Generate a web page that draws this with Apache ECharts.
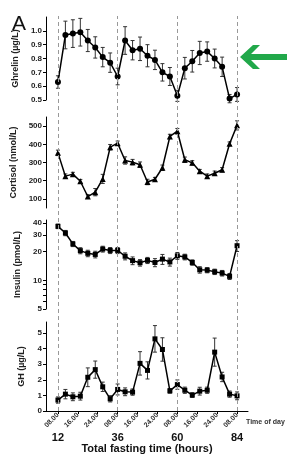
<!DOCTYPE html>
<html>
<head>
<meta charset="utf-8">
<script src="https://cdn.jsdelivr.net/npm/echarts@6/dist/echarts.min.js"></script>
<style>
  body { margin: 0; background: #fff; }
  #main { width: 289px; height: 461px; }
</style>
</head>
<body>
<div id="main"></div>
<script>
// fasting time (hours) of each sample
var hours = [12, 15, 18, 21, 24, 27, 30, 33, 36, 39, 42, 45, 48, 51, 54, 57, 60, 63, 66, 69, 72, 75, 78, 81, 84];

var ghrelin    = [0.63, 0.97, 0.98, 0.99, 0.93, 0.88, 0.81, 0.77, 0.67, 0.93, 0.86, 0.87, 0.82, 0.79, 0.70, 0.67, 0.53, 0.73, 0.78, 0.84, 0.85, 0.80, 0.74, 0.51, 0.54];
var ghrelinErr = [0.045, 0.10, 0.10, 0.10, 0.08, 0.077, 0.07, 0.07, 0.06, 0.10, 0.07, 0.085, 0.08, 0.07, 0.063, 0.065, 0.04, 0.078, 0.078, 0.084, 0.07, 0.068, 0.07, 0.03, 0.05];

var cortisol    = [353, 225, 236, 197, 113, 137, 210, 384, 406, 311, 302, 288, 193, 208, 271, 443, 472, 315, 298, 252, 225, 241, 260, 403, 504];
var cortisolErr = [15, 12, 10, 10, 10, 20, 25, 15, 12, 20, 15, 15, 15, 10, 15, 12, 15, 15, 12, 10, 12, 12, 12, 10, 25];

var insulin    = [36.9, 31.4, 24.1, 20.5, 19.2, 18.7, 21.3, 20.6, 20.6, 17.9, 16.1, 15.3, 16.2, 15.4, 16.7, 15.6, 18.1, 17.6, 15.4, 12.9, 12.8, 12.3, 11.9, 11.0, 23.1];
var insulinErr = [2, 2, 1.5, 1.5, 1.5, 1.5, 1.5, 1.5, 1.5, 1.5, 1.5, 1.2, 1.2, 1.5, 2, 1.5, 1.5, 1.2, 1, 1, 0.8, 0.8, 0.8, 0.8, 3];

var gh    = [0.70, 1.08, 0.91, 0.95, 2.16, 2.65, 1.55, 0.78, 1.38, 1.23, 1.21, 3.05, 2.60, 4.62, 3.94, 1.29, 1.69, 1.33, 1.02, 1.27, 1.33, 3.77, 2.18, 1.08, 0.97];
var ghErr = [0.2, 0.3, 0.25, 0.25, 0.6, 0.55, 0.3, 0.2, 0.35, 0.25, 0.2, 0.75, 0.55, 0.85, 0.75, 0.15, 0.3, 0.2, 0.15, 0.25, 0.2, 0.9, 0.3, 0.2, 0.25];

// axis labels
var timeHours  = [12, 20, 28, 36, 44, 52, 60, 68, 76, 84];
var timeLabels = ['08.00', '16.00', '24.00', '08.00', '16.00', '24.00', '08.00', '16.00', '24.00', '08.00'];
var fastHours  = [12, 36, 60, 84];

var FONT = '"Liberation Sans", Arial, sans-serif';
var X_MIN = 7.2, X_MAX = 88.4;
var LEFT = 46, WIDTH = 202;

function pairs(vals) {
    return hours.map(function (h, i) { return [h, vals[i]]; });
}

function errBars(idx, vals, errs) {
    return {
        type: 'custom',
        xAxisIndex: idx,
        yAxisIndex: idx,
        silent: true,
        z: 1,
        data: hours.map(function (h, i) { return [h, vals[i] - errs[i], vals[i] + errs[i]]; }),
        renderItem: function (params, api) {
            var lo = api.coord([api.value(0), api.value(1)]);
            var hi = api.coord([api.value(0), api.value(2)]);
            var st = { stroke: '#333', lineWidth: 1 };
            return {
                type: 'group',
                children: [
                    { type: 'line', shape: { x1: lo[0], y1: lo[1], x2: hi[0], y2: hi[1] }, style: st },
                    { type: 'line', shape: { x1: lo[0] - 2, y1: lo[1], x2: lo[0] + 2, y2: lo[1] }, style: st },
                    { type: 'line', shape: { x1: hi[0] - 2, y1: hi[1], x2: hi[0] + 2, y2: hi[1] }, style: st }
                ]
            };
        }
    };
}

function lineSeries(idx, vals, symbol, size) {
    return {
        type: 'line',
        xAxisIndex: idx,
        yAxisIndex: idx,
        data: pairs(vals),
        symbol: symbol,
        symbolSize: size,
        z: 3,
        itemStyle: { color: '#000' },
        lineStyle: { color: '#000', width: 1.5 }
    };
}

function hiddenX(idx) {
    return {
        type: 'value', gridIndex: idx, min: X_MIN, max: X_MAX,
        axisLine: { show: false }, axisTick: { show: false },
        axisLabel: { show: false }, splitLine: { show: false }
    };
}

function yAxis(idx, name, opts) {
    var ax = {
        gridIndex: idx,
        type: 'value',
        name: name,
        nameLocation: 'middle',
        nameGap: 20,
        nameTextStyle: { fontFamily: FONT, fontSize: 9, fontWeight: 'bold', color: '#222' },
        axisLine: { show: true, lineStyle: { color: '#000', width: 1 } },
        axisTick: { show: true, length: 3, lineStyle: { color: '#000' } },
        axisLabel: { fontFamily: FONT, fontSize: 8, fontWeight: 'bold', color: '#222', margin: 4 },
        splitLine: { show: false }
    };
    for (var k in opts) {
        if (typeof opts[k] === 'object' && ax[k] && !Array.isArray(opts[k])) {
            Object.assign(ax[k], opts[k]);
        } else {
            ax[k] = opts[k];
        }
    }
    return ax;
}

var chart = echarts.init(document.getElementById('main'), null, { renderer: 'canvas' });

chart.setOption({
    animation: false,
    grid: [
        { left: LEFT, width: WIDTH, top: 17, height: 83 },
        { left: LEFT, width: WIDTH, top: 117, height: 91 },
        { left: LEFT, width: WIDTH, top: 220, height: 89 },
        { left: LEFT, width: WIDTH, top: 322, height: 89 },
        { left: LEFT, width: WIDTH, top: 16, height: 395 }
    ],
    xAxis: [
        hiddenX(0),
        hiddenX(1),
        hiddenX(2),
        {
            type: 'value', gridIndex: 3, min: X_MIN, max: X_MAX,
            axisLine: { show: true, lineStyle: { color: '#000' } },
            axisTick: { show: true, length: 3, customValues: timeHours, lineStyle: { color: '#000' } },
            axisLabel: {
                customValues: timeHours, rotate: 45, margin: 3,
                fontFamily: FONT, fontSize: 7, fontWeight: 'bold', color: '#333',
                formatter: function (v) { return timeLabels[timeHours.indexOf(v)]; }
            },
            splitLine: { show: false }
        },
        hiddenX(4),
        {
            type: 'value', gridIndex: 3, min: X_MIN, max: X_MAX, position: 'bottom', offset: 21,
            axisLine: { show: false }, axisTick: { show: false },
            axisLabel: {
                customValues: fastHours, margin: 0,
                fontFamily: FONT, fontSize: 11, fontWeight: 'bold', color: '#111'
            },
            splitLine: { show: false },
            name: 'Total fasting time (hours)',
            nameLocation: 'middle',
            nameGap: 11,
            nameTextStyle: { fontFamily: FONT, fontSize: 11, fontWeight: 'bold', color: '#111' }
        }
    ],
    yAxis: [
        yAxis(0, 'Ghrelin (µg/L)', {
            min: 0.5, max: 1.1,
            axisLabel: { customValues: [0.5, 0.6, 0.7, 0.8, 0.9, 1.0], formatter: function (v) { return v.toFixed(1); } },
            axisTick: { customValues: [0.5, 0.6, 0.7, 0.8, 0.9, 1.0] }
        }),
        yAxis(1, 'Cortisol (nmol/L)', {
            min: 50, max: 550,
            axisLabel: { customValues: [100, 200, 300, 400, 500] },
            axisTick: { customValues: [100, 200, 300, 400, 500] }
        }),
        yAxis(2, 'Insulin (pmol/L)', {
            type: 'log', logBase: 10, min: 5, max: 43,
            axisLabel: { customValues: [5, 10, 20, 30, 40] },
            axisTick: { customValues: [5, 6, 7, 8, 9, 10, 20, 30, 40] }
        }),
        yAxis(3, 'GH (µg/L)', {
            min: 0, max: 5.7,
            axisLabel: { customValues: [0, 1, 2, 3, 4, 5] },
            axisTick: { customValues: [0, 1, 2, 3, 4, 5] }
        }),
        { type: 'value', gridIndex: 4, min: 0, max: 1, show: false }
    ],
    graphic: [
        { type: 'text', left: 12, top: 14, style: { text: 'A', fontFamily: FONT, fontSize: 21, fill: '#111' } },
        { type: 'text', left: 246, top: 419, style: { text: 'Time of day', fontFamily: FONT, fontSize: 7, fontWeight: 'bold', fill: '#333' } },
        {
            type: 'polygon',
            shape: { points: [[240, 57], [253, 45], [260, 45], [251, 54], [287, 54], [287, 60], [251, 60], [260, 69], [253, 69]] },
            style: { fill: '#21a84a' }
        }
    ],
    series: [
        {
            type: 'line', xAxisIndex: 4, yAxisIndex: 4, data: [], silent: true,
            markLine: {
                symbol: 'none', silent: true, label: { show: false },
                lineStyle: { type: [4, 3], color: '#999', width: 1 },
                data: fastHours.map(function (h) { return { xAxis: h }; })
            }
        },
        errBars(0, ghrelin, ghrelinErr),
        lineSeries(0, ghrelin, 'circle', 6),
        errBars(1, cortisol, cortisolErr),
        lineSeries(1, cortisol, 'triangle', 6),
        errBars(2, insulin, insulinErr),
        lineSeries(2, insulin, 'rect', 5),
        errBars(3, gh, ghErr),
        lineSeries(3, gh, 'rect', 5)
    ]
});
</script>
</body>
</html>
